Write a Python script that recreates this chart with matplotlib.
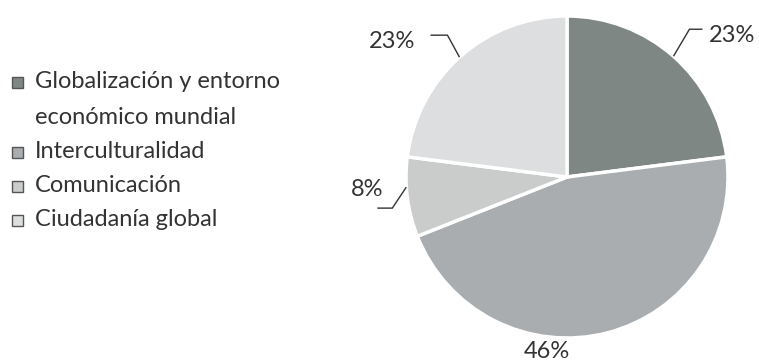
import numpy as np
import matplotlib
matplotlib.use("Agg")
import matplotlib.pyplot as plt
from matplotlib.patches import Rectangle

# Data
categories = ["Globalización y entorno\neconómico mundial", "Interculturalidad",
              "Comunicación", "Ciudadanía global"]
shares = [23, 46, 8, 23]
colors = ["#7f8785", "#a9adaf", "#c9cccb", "#dcdedf"]

TEXT = "#333333"
W, H = 759, 362
FS = 17
plt.rcParams["font.family"] = ["Lato", "DejaVu Sans"]

fig = plt.figure(figsize=(W / 100, H / 100), dpi=100)

# Pie axes: centre at (567, 177) px, radius 161 px
cx, cy, r_px = 567, 177, 161
half = 175
ax = fig.add_axes([(cx - half) / W, (H - cy - half) / H, 2 * half / W, 2 * half / H])
ax.axis("off")

wedges, _ = ax.pie(shares, colors=colors, startangle=90, counterclock=False,
                   radius=1.0, wedgeprops=dict(edgecolor="white", linewidth=2.5))
lim = half / r_px
ax.set_xlim(-lim, lim)
ax.set_ylim(-lim, lim)
ax.set_aspect("equal")

px = 1.0 / r_px  # one pixel in data units

# Leader layout per slice (pixels): anchor angle shift, elbow (dx, dy),
# horizontal run, text offset from run end (dx, dy), alignment
layout = [
    dict(shift=0.0, elbow=(16, 27), run=13, text=(6, -6), ha="left"),
    dict(shift=-21.0, radius=1.09, ha="center"),
    dict(shift=-3.6, elbow=(-14, -21), run=-15, text=(6, 19), ha="right"),
    dict(shift=0.5, elbow=(-12, 22), run=-17, text=(-15, -6), ha="right"),
]

for w, val, lay in zip(wedges, shares, layout):
    th = np.deg2rad((w.theta1 + w.theta2) / 2 + lay["shift"])
    ux, uy = np.cos(th), np.sin(th)
    label = f"{val}%"
    if "elbow" in lay:
        ex, ey = ux + lay["elbow"][0] * px, uy + lay["elbow"][1] * px
        hx = ex + lay["run"] * px
        ax.plot([ux, ex, hx], [uy, ey, ey], color=TEXT, lw=1.0,
                solid_joinstyle="miter", solid_capstyle="butt", clip_on=False)
        ax.text(hx + lay["text"][0] * px, ey + lay["text"][1] * px, label,
                ha=lay["ha"], va="center", fontsize=FS, color=TEXT)
    else:
        rr = lay["radius"]
        ax.text(ux * rr, uy * rr, label, ha="center", va="center",
                fontsize=FS, color=TEXT)

# Legend drawn by hand at left
legend_rows = [82, 152, 186, 220]
for lab, col, y in zip(categories, colors, legend_rows):
    fig.add_artist(Rectangle((12 / W, (H - y - 5.5) / H), 11 / W, 11 / H,
                             transform=fig.transFigure, facecolor=col,
                             edgecolor="#555555", linewidth=1.0))
    for k, ln in enumerate(lab.split("\n")):
        fig.text(35 / W, (H - (y + 35 * k)) / H, ln, ha="left", va="center",
                 fontsize=FS, color=TEXT)

fig.savefig("out.png", dpi=100, facecolor="white")
